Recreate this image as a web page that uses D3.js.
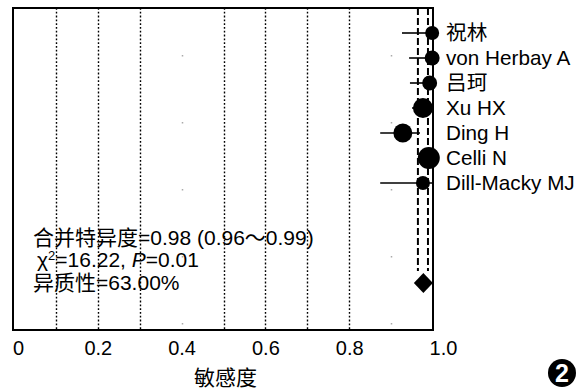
<!DOCTYPE html>
<html>
<head>
  <meta charset="utf-8">
  <script src="https://cdnjs.cloudflare.com/ajax/libs/d3/7.8.5/d3.min.js"></script>
  <style>
  body { margin: 0; background: #fff; }
  svg text { font-family: "Liberation Sans", Arial, "Noto Sans CJK SC", sans-serif; fill: #000; }
  </style>
</head>
<body>
<script>
// study rows, top to bottom
var studies = ["祝林", "von Herbay A", "吕珂", "Xu HX", "Ding H", "Celli N", "Dill-Macky MJ"];
var estimate = [0.998, 0.998, 0.992, 0.976, 0.928, 0.990, 0.976];
var ciLow = [0.926, 0.943, 0.945, 0.950, 0.874, 0.970, 0.874];
var ciHigh = [1.0, 1.0, 1.0, 0.990, 0.969, 1.0, 1.0];
var weight = [49, 56, 56, 100, 90, 121, 49];

// pooled result
var pooled = { est: 0.977, low: 0.964, high: 0.988 };
var statLines = ["合并特异度=0.98 (0.96～0.99)", "=16.22, ", "异质性=63.00%"];

var tickValues = [0, 0.2, 0.4, 0.6, 0.8, 1.0];
var tickLabels = ["0", "0.2", "0.4", "0.6", "0.8", "1.0"];
var gridDark = [0.1, 0.2, 0.3, 0.5, 0.6, 0.7, 0.8];
var gridFaint = [0.4, 0.9];
var xTitle = "敏感度";

var W = 588, H = 390;
var box = { left: 13, right: 433, top: 8, bottom: 330 };

var svg = d3.select("body").append("svg")
  .attr("width", W).attr("height", H);

var x = d3.scaleLinear().domain([0, 1]).range([14, 433]);
// row index -> y ; pooled diamond sits on row 10
var y = d3.scaleLinear().domain([0, 10]).range([33, 283]);
var r = d3.scaleSqrt().domain([0, 121]).range([0, 11]);

// grid lines
svg.selectAll("line.grid").data(gridDark).enter().append("line")
  .attr("class", "grid")
  .attr("x1", d => Math.round(x(d)) + 0.5).attr("x2", d => Math.round(x(d)) + 0.5)
  .attr("y1", box.top).attr("y2", box.bottom)
  .attr("stroke", "#000").attr("stroke-width", 1.4)
  .attr("stroke-dasharray", "1.8,2");

svg.selectAll("line.faint").data(gridFaint).enter().append("line")
  .attr("class", "faint")
  .attr("x1", d => Math.round(x(d)) + 0.5).attr("x2", d => Math.round(x(d)) + 0.5)
  .attr("y1", box.top).attr("y2", box.bottom)
  .attr("stroke", "#aaa").attr("stroke-width", 1.5)
  .attr("stroke-dasharray", "1.5,65.5")
  .attr("stroke-dashoffset", -47);

// pooled CI dashed lines
svg.selectAll("line.pool").data([pooled.low, pooled.high]).enter().append("line")
  .attr("class", "pool")
  .attr("x1", d => x(d)).attr("x2", d => x(d))
  .attr("y1", box.top).attr("y2", y(10) - 12)
  .attr("stroke", "#000").attr("stroke-width", 2)
  .attr("stroke-dasharray", "7,3");

// frame
svg.append("rect")
  .attr("x", box.left).attr("y", box.top)
  .attr("width", box.right - box.left).attr("height", box.bottom - box.top)
  .attr("fill", "none").attr("stroke", "#000").attr("stroke-width", 2);

// x axis labels
var axis = d3.axisBottom(x).tickValues(tickValues)
  .tickFormat((d, i) => tickLabels[i]).tickSize(0).tickPadding(11);
var gx = svg.append("g").attr("transform", "translate(0," + box.bottom + ")").call(axis);
gx.select(".domain").remove();
gx.selectAll("text")
  .style("font-size", "20px")
  .attr("dx", (d, i) => i === 0 ? 4 : (i === tickValues.length - 1 ? 10 : 0));

svg.append("text")
  .attr("x", x(0.5) + 2).attr("y", 385)
  .attr("text-anchor", "middle")
  .style("font-size", "21px")
  .text(xTitle);

// study CIs and points
var rows = studies.map((s, i) => ({ name: s, est: estimate[i], lo: ciLow[i], hi: ciHigh[i], w: weight[i], i: i }));

svg.selectAll("line.ci").data(rows).enter().append("line")
  .attr("class", "ci")
  .attr("x1", d => x(d.lo)).attr("x2", d => x(d.hi))
  .attr("y1", d => y(d.i)).attr("y2", d => y(d.i))
  .attr("stroke", "#000").attr("stroke-width", 1.6);

svg.selectAll("circle.pt").data(rows).enter().append("circle")
  .attr("class", "pt")
  .attr("cx", d => x(d.est)).attr("cy", d => y(d.i))
  .attr("r", d => r(d.w))
  .attr("fill", "#000");

svg.selectAll("text.lab").data(rows).enter().append("text")
  .attr("class", "lab")
  .attr("x", 446).attr("y", d => y(d.i))
  .attr("dy", "0.36em")
  .style("font-size", "20.7px")
  .text(d => d.name);

// pooled diamond
var dc = [x(pooled.est), y(10)];
var diamond = d3.line()([[dc[0] - 9.5, dc[1]], [dc[0], dc[1] - 10], [dc[0] + 9.5, dc[1]], [dc[0], dc[1] + 10]]) + "Z";
svg.append("path").attr("d", diamond).attr("fill", "#000");

// stats text
svg.append("text").attr("x", 33).attr("y", 245).style("font-size", "21px").text(statLines[0]);
var t2 = svg.append("text").attr("x", 37).attr("y", 267).style("font-size", "21px");
t2.append("tspan").text("χ");
t2.append("tspan").attr("dy", -7).style("font-size", "13px").text("2");
t2.append("tspan").attr("dy", 7).text(statLines[1]);
t2.append("tspan").style("font-style", "italic").text("P");
t2.append("tspan").text("=0.01");
svg.append("text").attr("x", 33).attr("y", 290).style("font-size", "21px").text(statLines[2]);

// panel badge
svg.append("circle").attr("cx", 562).attr("cy", 373).attr("r", 14).attr("fill", "#000");
svg.append("text").attr("x", 562).attr("y", 373).attr("dy", "0.36em")
  .attr("text-anchor", "middle")
  .style("font-size", "25px").style("font-weight", "bold").style("fill", "#fff")
  .text("2");
</script>
</body>
</html>
